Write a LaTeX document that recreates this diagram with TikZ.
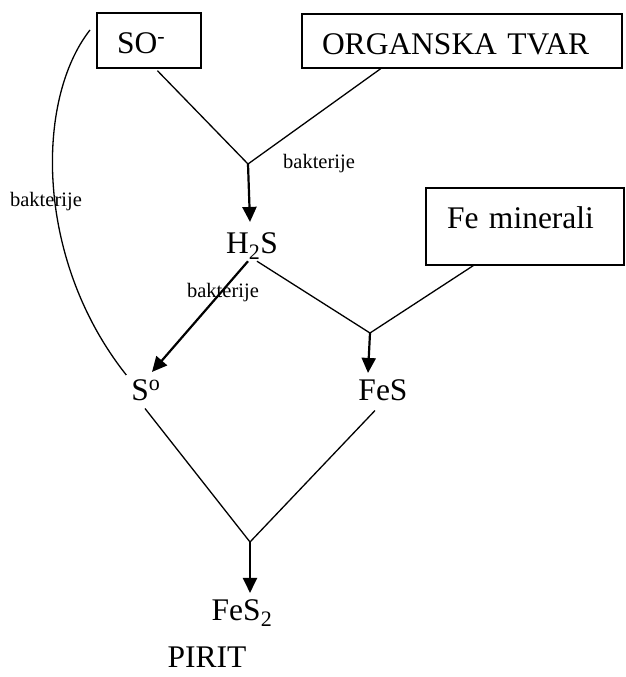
\documentclass[tikz,border=0pt]{standalone}
\usepackage{fontspec}
\setmainfont{Liberation Serif}
\usetikzlibrary{arrows.meta,calc}
\begin{document}
\begin{tikzpicture}[x=1pt,y=-1pt,
  big/.style={font=\fontsize{31.5}{36}\selectfont, inner sep=3pt, anchor=base},
  small/.style={font=\fontsize{20.5}{24}\selectfont, inner sep=0pt, anchor=base},
  box/.style={draw, line width=1.4pt, align=left, inner ysep=0pt, font=\fontsize{31.5}{36}\selectfont},
  thin/.style={line width=1.3pt},
  arr/.style={line width=2.2pt, -{Triangle[length=15pt,width=14pt]}}]
\useasboundingbox (0,0) rectangle (625,677);

% boxes
\node[box, text width=64pt, inner xsep=20pt, minimum height=55pt, text height=25pt, text depth=0pt] (so) at (149,40.5) {SO\textsuperscript{-}};
\node[box, text width=280pt, inner xsep=20pt, minimum height=54pt, text height=28pt, text depth=0pt] (org) at (462,41) {ORGANSKA TVAR};
\node[box, text width=156pt, inner xsep=21pt, minimum height=77pt, text height=21.5pt, text depth=18.5pt] (fe) at (525,226.5) {Fe minerali};

% compounds
\node[big] (h2s) at (252,253) {H\textsubscript{2}S};
\node[big] (s0) at (146,400) {S\textsuperscript{o}};
\node[big] (fes) at (383,400) {FeS};
\node[big] (fes2) at (242,620) {FeS\textsubscript{2}};
\node[big] (pirit) at (207,667) {PIRIT};

% labels
\node[small] (b1) at (319,168) {bakterije};
\node[small] (b2) at (46,206) {bakterije};
\node[small] (b3) at (223,297) {bakterije};

% junctions
\coordinate (j1) at (248,164);
\coordinate (j2) at (370,333);
\coordinate (j3) at (250,542);
\coordinate (ctop) at (90,30);

% connectors
\draw[thin] ($(so.south west)!0.58!(so.south east)+(0,2)$) -- (j1) -- ($(org.south west)!0.247!(org.south east)$);
\draw[arr] (j1) -- ($(h2s.north)+(-2,-7)$);
\draw[arr] ($(h2s.south)+(-4,-1)$) -- ($(s0.north)+(6,-4)$);
\draw[thin] ($(h2s.south)+(5,-1)$) -- (j2) -- ($(fe.south west)!0.24!(fe.south east)$);
\draw[arr] (j2) -- ($(fes.north)+(-15,-3)$);
\draw[thin] ($(s0.south)+(-1,5)$) -- (j3) -- ($(fes.south)+(-8,7)$);
\draw[arr] (j3) -- ($(fes2.north)+(8,-3)$);
\draw[thin] (ctop) .. controls (35,100) and (35,260) .. ($(s0.north west)+(-2,-1)$);
\end{tikzpicture}
\end{document}
